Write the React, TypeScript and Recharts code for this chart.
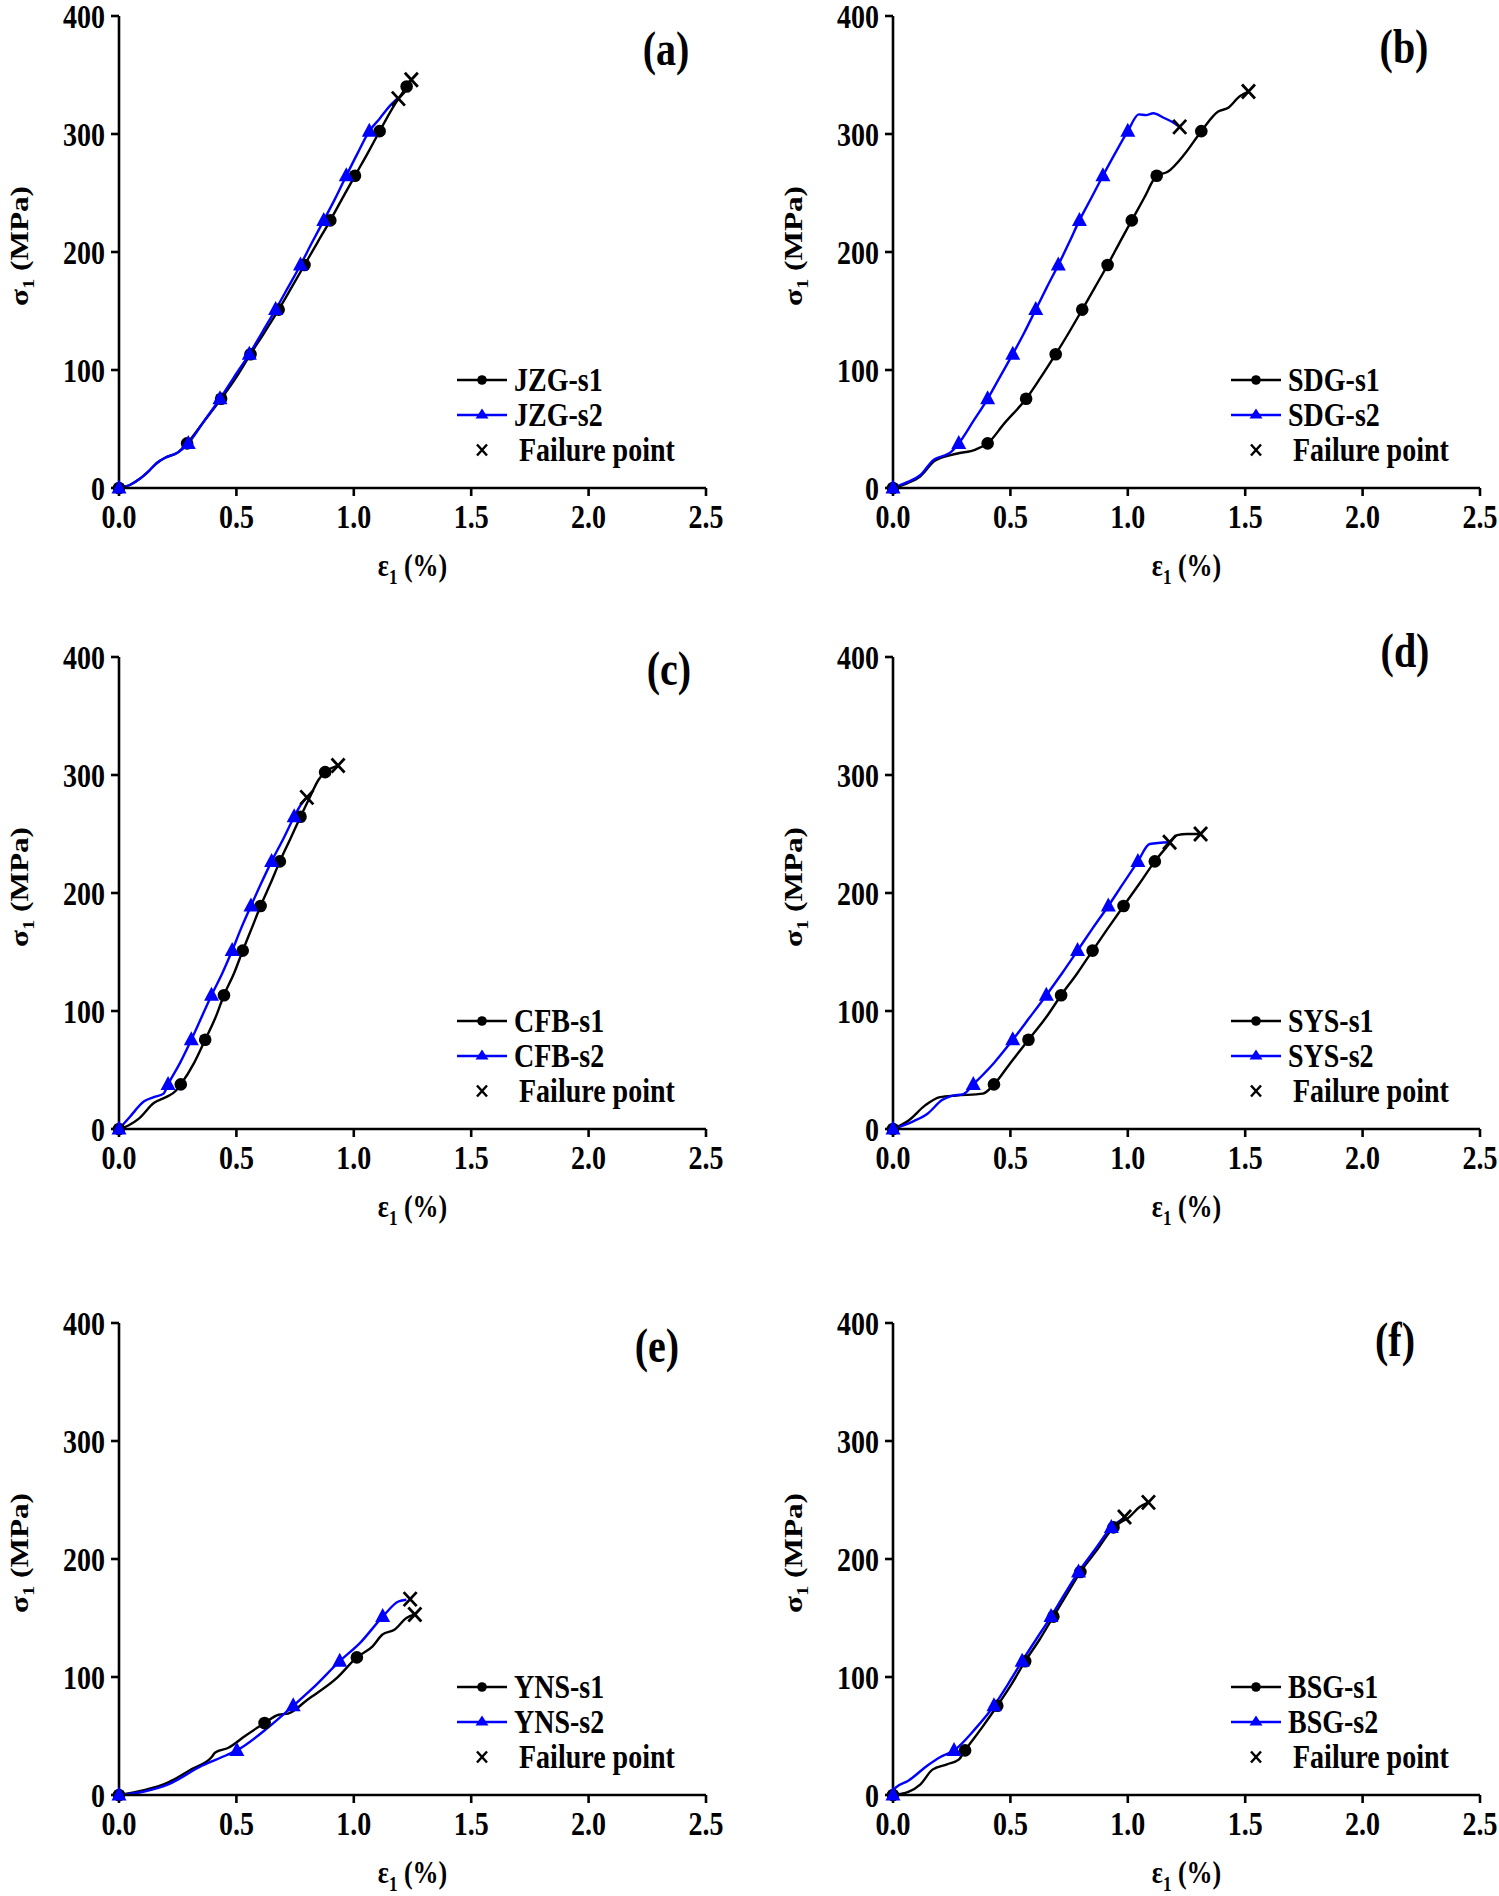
import React from 'react';
import { ComposedChart, Line, XAxis, YAxis } from 'recharts';

const FONT = '"Liberation Serif", "Times New Roman", serif';

// [strain %, stress MPa, marker]
const jzgS1 = [[0, 0, 1], [0.05, 3], [0.09, 8], [0.13, 15], [0.16, 21], [0.2, 26], [0.25, 30], [0.29, 37.8, 1], [0.36, 56], [0.435, 75.6, 1], [0.5, 94], [0.56, 113.4, 1], [0.62, 132], [0.68, 151.2, 1], [0.735, 170], [0.79, 189, 1], [0.845, 208], [0.9, 226.8, 1], [0.95, 245], [1.005, 264.6, 1], [1.06, 284], [1.11, 302.4, 1], [1.165, 322], [1.225, 340.2, 1], [1.245, 346]];
const jzgS2 = [[0, 0, 1], [0.05, 3], [0.09, 8], [0.13, 15], [0.16, 21], [0.2, 26], [0.25, 30], [0.295, 37.8, 1], [0.36, 56], [0.43, 75.6, 1], [0.49, 94], [0.555, 113.4, 1], [0.61, 132], [0.667, 151.2, 1], [0.72, 170], [0.773, 189, 1], [0.822, 208], [0.872, 226.8, 1], [0.92, 245], [0.968, 264.6, 1], [1.017, 284], [1.066, 302.4, 1], [1.11, 313], [1.15, 323], [1.185, 330]];
const jzgFail = [[1.245, 346], [1.19, 330]];

const sdgS1 = [[0, 0, 1], [0.06, 4], [0.117, 10], [0.178, 23], [0.27, 29], [0.352, 32.6], [0.403, 37.8, 1], [0.475, 55], [0.567, 75.6, 1], [0.63, 94], [0.693, 113.4, 1], [0.75, 132], [0.806, 151.2, 1], [0.86, 170], [0.914, 189, 1], [0.965, 208], [1.017, 226.8, 1], [1.07, 246], [1.123, 264.6, 1], [1.17, 268], [1.242, 283], [1.313, 302.4, 1], [1.385, 319], [1.426, 322], [1.477, 332], [1.514, 336]];
const sdgS2 = [[0, 0, 1], [0.06, 5], [0.117, 11], [0.168, 23], [0.25, 31], [0.28, 37.8, 1], [0.34, 56], [0.403, 75.6, 1], [0.455, 94], [0.51, 113.4, 1], [0.56, 132], [0.608, 151.2, 1], [0.655, 170], [0.704, 189, 1], [0.75, 208], [0.794, 226.8, 1], [0.845, 246], [0.894, 264.6, 1], [0.947, 284], [1.0, 302.4, 1], [1.047, 316.6], [1.078, 316], [1.109, 317.6], [1.15, 314], [1.2, 309], [1.221, 306]];
const sdgFail = [[1.514, 336], [1.221, 306]];

const cfbS1 = [[0, 0, 1], [0.04, 3], [0.086, 9], [0.148, 22], [0.2, 27], [0.24, 32], [0.263, 37.8, 1], [0.32, 56], [0.367, 75.6, 1], [0.41, 94], [0.447, 113.4, 1], [0.49, 132], [0.527, 151.2, 1], [0.565, 170], [0.603, 189, 1], [0.645, 208], [0.685, 226.8, 1], [0.73, 246], [0.773, 264.6, 1], [0.81, 280], [0.85, 296], [0.878, 302.4, 1], [0.933, 308]];
const cfbS2 = [[0, 0, 1], [0.045, 10], [0.107, 23.5], [0.148, 27], [0.19, 30], [0.209, 37.8, 1], [0.26, 56], [0.308, 75.6, 1], [0.35, 94], [0.394, 113.4, 1], [0.44, 132], [0.482, 151.2, 1], [0.52, 170], [0.562, 189, 1], [0.605, 208], [0.65, 226.8, 1], [0.7, 246], [0.746, 264.6, 1], [0.775, 275], [0.8, 281]];
const cfbFail = [[0.933, 308], [0.8, 281]];

const sysS1 = [[0, 0, 1], [0.065, 7], [0.137, 20], [0.2, 27], [0.27, 28.4], [0.383, 30], [0.43, 37.8, 1], [0.5, 56], [0.577, 75.6, 1], [0.65, 94], [0.716, 113.4, 1], [0.785, 132], [0.85, 151.2, 1], [0.915, 170], [0.982, 189, 1], [1.05, 208], [1.115, 226.8, 1], [1.17, 240], [1.21, 249], [1.254, 250], [1.31, 250]];
const sysS2 = [[0, 0, 1], [0.086, 6.5], [0.147, 13], [0.209, 24.5], [0.25, 28], [0.3, 29.6], [0.342, 37.8, 1], [0.43, 56], [0.51, 75.6, 1], [0.58, 94], [0.653, 113.4, 1], [0.72, 132], [0.786, 151.2, 1], [0.85, 170], [0.917, 189, 1], [0.98, 208], [1.043, 226.8, 1], [1.093, 241.5], [1.178, 243]];
const sysFail = [[1.31, 250], [1.178, 243]];

const ynsS1 = [[0, 0, 1], [0.107, 4], [0.21, 10.7], [0.31, 22], [0.394, 32], [0.41, 36], [0.466, 40], [0.537, 50], [0.62, 61, 1], [0.68, 68], [0.72, 69], [0.804, 81], [0.927, 99], [1.013, 116.6, 1], [1.08, 126], [1.122, 136], [1.173, 140], [1.224, 150], [1.26, 153]];
const ynsS2 = [[0, 0, 1], [0.107, 3], [0.21, 9], [0.353, 24.8], [0.455, 33.5], [0.502, 37.8, 1], [0.64, 58], [0.742, 75.6, 1], [0.825, 90.5], [0.94, 113.4, 1], [1.03, 129.6], [1.123, 151.2, 1], [1.19, 164], [1.224, 165.5]];
const ynsFail = [[1.26, 153], [1.24, 166]];

const bsgS1 = [[0, 0, 1], [0.065, 2.6], [0.117, 9], [0.168, 21.5], [0.23, 26], [0.28, 30], [0.307, 37.8, 1], [0.375, 56], [0.444, 75.6, 1], [0.505, 94], [0.563, 113.4, 1], [0.625, 132], [0.683, 151.2, 1], [0.74, 170], [0.798, 189, 1], [0.87, 208], [0.939, 226.8, 1], [1.006, 235.5], [1.05, 244], [1.088, 248]];
const bsgS2 = [[0, 0, 1], [0.01, 6], [0.065, 12], [0.147, 25], [0.2, 32], [0.26, 37.8, 1], [0.35, 56], [0.43, 75.6, 1], [0.49, 94], [0.55, 113.4, 1], [0.61, 132], [0.673, 151.2, 1], [0.73, 170], [0.79, 189, 1], [0.86, 208], [0.93, 226.8, 1], [0.986, 235]];
const bsgFail = [[1.088, 248], [0.986, 235.6]];

const xTicks = [0, 0.5, 1, 1.5, 2, 2.5];
const yTicks = [0, 100, 200, 300, 400];

const PW = 587;
const PH = 472;
const SY = 1.2; // the figure's text is a bit taller than wide

const toRows = (arr) => arr.map((d) => ({ x: d[0], y: d[1], m: d[2] === 1 }));

const circleDot = (p) =>
  p.payload.m ? <circle key={p.index} cx={p.cx} cy={p.cy} r={6.3} fill="#000" /> : <g key={p.index} />;

const triDot = (p) =>
  p.payload.m ? (
    <path key={p.index} d={`M${p.cx},${p.cy - 8.5}L${p.cx + 7.5},${p.cy + 5.5}L${p.cx - 7.5},${p.cy + 5.5}Z`} fill="#0000ff" />
  ) : (
    <g key={p.index} />
  );

const crossDot = (p) => (
  <path
    key={p.index}
    d={`M${p.cx - 6.5},${p.cy - 7}L${p.cx + 6.5},${p.cy + 7}M${p.cx + 6.5},${p.cy - 7}L${p.cx - 6.5},${p.cy + 7}`}
    stroke="#000"
    strokeWidth={2.8}
  />
);

const tickFont = { fontFamily: FONT, fontWeight: 700, fontSize: 28, fill: '#000' };

const xTick = (p) => (
  <text key={p.index} transform={`translate(${p.x},${p.y}) scale(1,${SY})`} textAnchor="middle" dy="0.71em" style={tickFont}>
    {Number(p.payload.value).toFixed(1)}
  </text>
);

const yTick = (p) => (
  <text key={p.index} transform={`translate(${p.x},${p.y}) scale(1,${SY})`} textAnchor="end" dy="0.355em" style={tickFont}>
    {p.payload.value}
  </text>
);

const txt = { fontFamily: FONT, fontWeight: 700, color: '#000' };

function LegendBox({ left, top, n1, n2 }) {
  const row = { display: 'flex', alignItems: 'center', height: 35 };
  const label = { display: 'inline-block', transform: `scaleY(${SY})` };
  return (
    <div style={{ ...txt, position: 'absolute', left, top, fontSize: 28, whiteSpace: 'nowrap' }}>
      <div style={row}>
        <svg width={52} height={20}>
          <line x1={0} y1={10} x2={50} y2={10} stroke="#000" strokeWidth={2.4} />
          <circle cx={25} cy={10} r={4.8} fill="#000" />
        </svg>
        <span style={{ ...label, marginLeft: 5 }}>{n1}</span>
      </div>
      <div style={row}>
        <svg width={52} height={20}>
          <line x1={0} y1={10} x2={50} y2={10} stroke="#0000ff" strokeWidth={2.4} />
          <path d="M25,3.5L31.5,13.5L18.5,13.5Z" fill="#0000ff" />
        </svg>
        <span style={{ ...label, marginLeft: 5 }}>{n2}</span>
      </div>
      <div style={row}>
        <svg width={52} height={20}>
          <path d="M20,4.5L30,15.5M30,4.5L20,15.5" stroke="#000" strokeWidth={2.5} />
        </svg>
        <span style={{ ...label, marginLeft: 10 }}>Failure point</span>
      </div>
    </div>
  );
}

function Panel({ left, top, s1, s2, fail }) {
  const axisLine = { stroke: '#000', strokeWidth: 2.6 };
  return (
    <div style={{ position: 'absolute', left: left - 120, top: top - 20 }}>
      <ComposedChart width={120 + PW + 30} height={20 + PH + 70} margin={{ top: 20, right: 30, bottom: 10, left: 40 }}>
        <XAxis
          type="number"
          dataKey="x"
          domain={[0, 2.5]}
          ticks={xTicks}
          tick={xTick}
          tickSize={8}
          tickMargin={8}
          axisLine={axisLine}
          tickLine={axisLine}
          height={60}
          allowDuplicatedCategory={false}
        />
        <YAxis
          type="number"
          dataKey="y"
          domain={[0, 400]}
          ticks={yTicks}
          tick={yTick}
          tickSize={8}
          tickMargin={6}
          axisLine={axisLine}
          tickLine={axisLine}
          width={80}
        />
        <Line data={toRows(s1)} dataKey="y" type="monotone" stroke="#000" strokeWidth={2.4} dot={circleDot} activeDot={false} isAnimationActive={false} />
        <Line data={toRows(s2)} dataKey="y" type="monotone" stroke="#0000ff" strokeWidth={2.4} dot={triDot} activeDot={false} isAnimationActive={false} />
        <Line data={toRows(fail)} dataKey="y" stroke="none" dot={crossDot} activeDot={false} isAnimationActive={false} />
      </ComposedChart>
    </div>
  );
}

function AxisTitles({ left, top }) {
  return (
    <>
      <div
        style={{
          ...txt,
          position: 'absolute',
          left: left - 97,
          top: top + 230,
          fontSize: 26,
          whiteSpace: 'nowrap',
          transform: `translate(-50%, -50%) rotate(-90deg) scaleX(${SY})`,
        }}
      >
        σ<sub style={{ fontSize: 17 }}>1</sub> (MPa)
      </div>
      <div
        style={{
          ...txt,
          position: 'absolute',
          left: left + PW / 2,
          top: top + PH + 81,
          fontSize: 26,
          whiteSpace: 'nowrap',
          transform: `translate(-50%, -50%) scaleY(${SY})`,
        }}
      >
        ε<sub style={{ fontSize: 17 }}>1</sub> (%)
      </div>
    </>
  );
}

const panels = [
  { left: 119, top: 16, s1: jzgS1, s2: jzgS2, fail: jzgFail, n1: 'JZG-s1', n2: 'JZG-s2', tag: '(a)', tx: 666, ty: 49 },
  { left: 893, top: 16, s1: sdgS1, s2: sdgS2, fail: sdgFail, n1: 'SDG-s1', n2: 'SDG-s2', tag: '(b)', tx: 1404, ty: 47 },
  { left: 119, top: 657, s1: cfbS1, s2: cfbS2, fail: cfbFail, n1: 'CFB-s1', n2: 'CFB-s2', tag: '(c)', tx: 669, ty: 669 },
  { left: 893, top: 657, s1: sysS1, s2: sysS2, fail: sysFail, n1: 'SYS-s1', n2: 'SYS-s2', tag: '(d)', tx: 1405, ty: 651 },
  { left: 119, top: 1323, s1: ynsS1, s2: ynsS2, fail: ynsFail, n1: 'YNS-s1', n2: 'YNS-s2', tag: '(e)', tx: 657, ty: 1346 },
  { left: 893, top: 1323, s1: bsgS1, s2: bsgS2, fail: bsgFail, n1: 'BSG-s1', n2: 'BSG-s2', tag: '(f)', tx: 1395, ty: 1340 },
];

export default function App() {
  return (
    <div style={{ position: 'absolute', left: 0, top: 0, width: 1499, height: 1896, background: '#fff', overflow: 'hidden' }}>
      {panels.map((p) => (
        <React.Fragment key={p.tag}>
          <Panel {...p} />
          <AxisTitles left={p.left} top={p.top} />
          <LegendBox left={p.left + 338} top={p.top + 346} n1={p.n1} n2={p.n2} />
          <div
            style={{
              ...txt,
              position: 'absolute',
              left: p.tx,
              top: p.ty,
              fontSize: 40,
              transform: `translate(-50%, -50%) scaleY(${SY})`,
            }}
          >
            {p.tag}
          </div>
        </React.Fragment>
      ))}
    </div>
  );
}
